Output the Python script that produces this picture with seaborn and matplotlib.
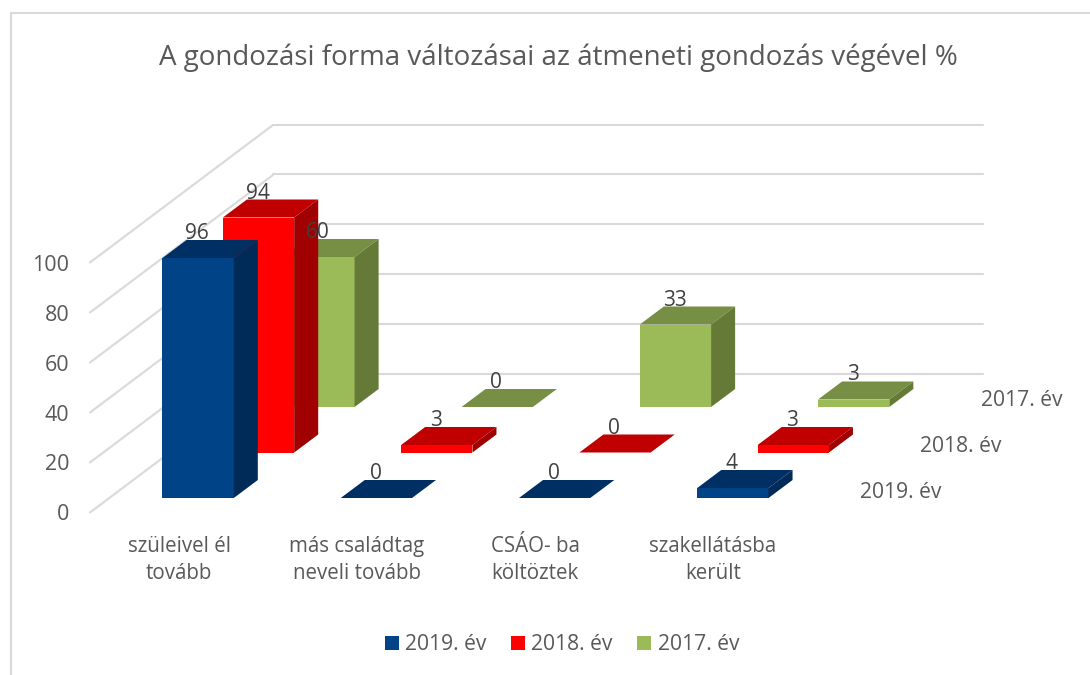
import matplotlib
matplotlib.use('Agg')
import matplotlib.pyplot as plt
from matplotlib.lines import Line2D
from matplotlib.patches import Polygon
import seaborn as sns

W, H = 1090, 675

kategoriak = ['szüleivel él\ntovább', 'más családtag\nneveli tovább', 'CSÁO- ba\nköltöztek', 'szakellátásba\nkerült']
ev2019 = [96, 0, 0, 4]
ev2018 = [94, 3, 0, 3]
ev2017 = [60, 0, 33, 3]
evNevek = ['2019. év', '2018. év', '2017. év']
yTicks = [0, 20, 40, 60, 80, 100]

# szinek: elolap, teteje, oldala
szinek = [('#004386', '#003063', '#002B59'),
          ('#FF0000', '#C00000', '#A00000'),
          ('#9BBB59', '#778E45', '#657A36')]

sns.set_theme(style='white')
plt.rcParams['font.family'] = ['Open Sans', 'DejaVu Sans']

szurke = '#595959'
racs = '#D9D9D9'

fig = plt.figure(figsize=(W / 100, H / 100), dpi=100, facecolor='white')


def pxAxes(left, base, width=713, height=250, zorder=1):
    ax = fig.add_axes([left / W, 1 - base / H, width / W, height / H], zorder=zorder)
    ax.set_facecolor('none')
    sns.despine(ax=ax, left=True, bottom=True)
    ax.set_ylim(0, 100)
    ax.set_xlim(-0.5, 3.5)
    ax.set_xlabel('')
    ax.set_ylabel('')
    return ax


# keret
fig.add_artist(Line2D([10.5 / W, 10.5 / W, 1], [0, 1 - 13 / H, 1 - 13 / H], color=racs, lw=1.5))

# elso sik: tengelyfeliratok es oldalfal
frontAx = pxAxes(90, 512.5, width=712, zorder=0)
frontAx.set_yticks(yTicks)
frontAx.set_xticks(range(len(kategoriak)))
frontAx.set_xticklabels(kategoriak, fontsize=14.8, color=szurke, linespacing=1.38)
frontAx.tick_params(axis='y', length=0, pad=15, labelsize=15.5, labelcolor=szurke)
frontAx.tick_params(axis='x', length=0, pad=17)
for t in yTicks:
    frontAx.plot([-0.5, -0.5 + 183 / 178], [t, t + 55], color=racs, lw=1.5, clip_on=False)

# hatso fal
wallAx = pxAxes(273, 374.5, width=710, zorder=0.5)
wallAx.set_xticks([])
wallAx.set_yticks(yTicks)
wallAx.tick_params(labelleft=False, length=0)
wallAx.grid(axis='y', color=racs, lw=1.5, clip_on=False)
wallAx.spines[['left', 'right', 'top', 'bottom']].set_visible(False)

depthX = 24 / 178
depthY = 18 / 2.5
sorozatok = [ev2019, ev2018, ev2017]
handles = []
for i, ertekek in enumerate(sorozatok):
    ax = pxAxes(109 + 60.4 * i, 498 - 45.5 * i, zorder=3 - i)
    elol, teteje, oldala = szinek[i]
    sns.barplot(x=kategoriak, y=ertekek, color=elol, saturation=1, width=0.4, linewidth=0, ax=ax)
    ax.set_ylim(0, 100)
    ax.set_xlim(-0.5, 3.5)
    ax.set_xticks([])
    ax.set_yticks([])
    ax.set_xlabel('')
    ax.set_ylabel('')
    ax.spines[['left', 'right', 'top', 'bottom']].set_visible(False)
    handles.append(ax.patches[0])
    for bar, v in zip(list(ax.patches), ertekek):
        x0, x1 = bar.get_x(), bar.get_x() + bar.get_width()
        ax.add_patch(Polygon([(x0, v), (x1, v), (x1 + depthX, v + depthY), (x0 + depthX, v + depthY)],
                             facecolor=teteje, edgecolor='none', clip_on=False))
        ax.add_patch(Polygon([(x1, 0), (x1, v), (x1 + depthX, v + depthY), (x1 + depthX, depthY)],
                             facecolor=oldala, edgecolor='none', clip_on=False))
        fig.text((x0 + x1) / 2 - 0.005, v + 9.8, str(v), transform=ax.transData, ha='center', va='center',
                 fontsize=15, color='#404040', zorder=10)

# melysegi tengely feliratai
for nev, xPx, yPx in zip(evNevek, [901, 961, 1021.5], [492.5, 446.5, 400.5]):
    fig.text(xPx / W, 1 - yPx / H, nev, ha='center', va='center', fontsize=15.2, color=szurke)

fig.text(558 / W, 1 - 57.5 / H, 'A gondozási forma változásai az átmeneti gondozás végével %',
         ha='center', va='center', fontsize=20, color=szurke)

fig.legend(handles, evNevek, loc='center', bbox_to_anchor=(562 / W, 1 - 645 / H), ncol=3, frameon=False,
           fontsize=15.2, labelcolor=szurke, handlelength=0.67, handleheight=0.67, handletextpad=0.3,
           columnspacing=1.15)

fig.savefig('out.png', dpi=100)
